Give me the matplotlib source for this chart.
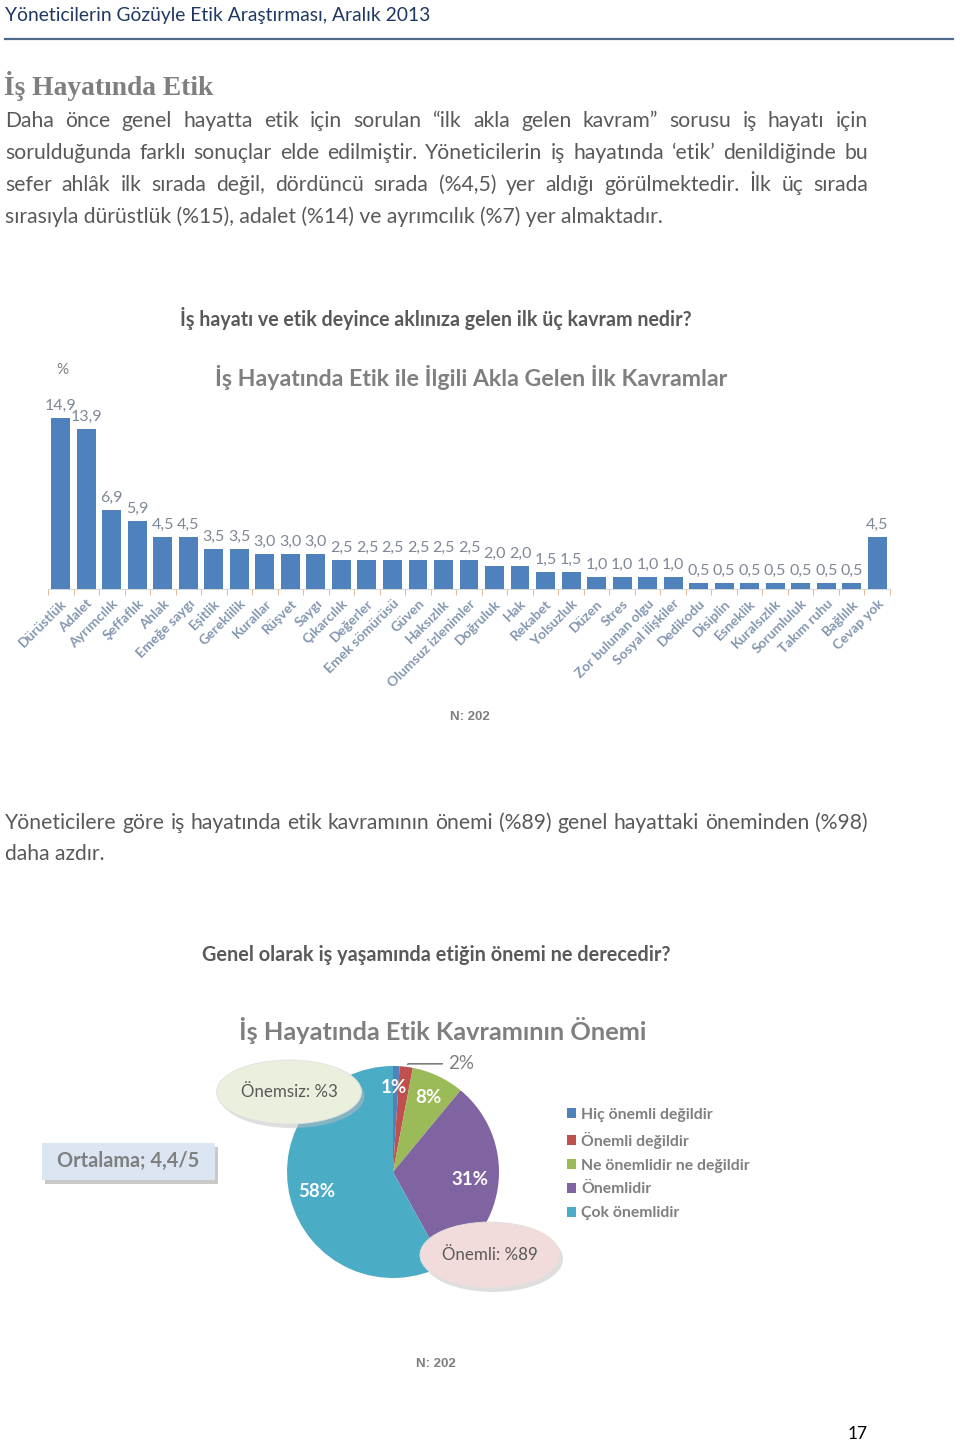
import numpy as np
import matplotlib
matplotlib.use("Agg")
import matplotlib.pyplot as plt
from matplotlib.patches import Ellipse, FancyBboxPatch

plt.rcParams["font.family"] = ["Lato", "DejaVu Sans"]

# ── Data ─────────────────────────────────────────────
CONCEPTS = ["Dürüstlük", "Adalet", "Ayrımcılık", "Şeffaflık", "Ahlak", "Emeğe saygı",
            "Eşitlik", "Gereklilik", "Kurallar", "Rüşvet", "Saygı", "Çıkarcılık",
            "Değerler", "Emek sömürüsü", "Güven", "Haksızlık", "Olumsuz izlenimler",
            "Doğruluk", "Hak", "Rekabet", "Yolsuzluk", "Düzen", "Stres",
            "Zor bulunan olgu", "Sosyal ilişkiler", "Dedikodu", "Disiplin", "Esneklik",
            "Kuralsızlık", "Sorumluluk", "Takım ruhu", "Bağlılık", "Cevap yok"]
CONCEPT_PCT = [14.9, 13.9, 6.9, 5.9, 4.5, 4.5, 3.5, 3.5, 3.0, 3.0, 3.0,
               2.5, 2.5, 2.5, 2.5, 2.5, 2.5, 2.0, 2.0, 1.5, 1.5,
               1.0, 1.0, 1.0, 1.0, 0.5, 0.5, 0.5, 0.5, 0.5, 0.5, 0.5, 4.5]

IMPORTANCE = ["Hiç önemli değildir", "Önemli değildir", "Ne önemlidir ne değildir",
              "Önemlidir", "Çok önemlidir"]
IMPORTANCE_PCT = [1, 2, 8, 31, 58]
IMPORTANCE_COLORS = ["#4F81BD", "#C0504D", "#9BBB59", "#8064A2", "#4BACC6"]

PARA1 = [
    "Daha önce genel hayatta etik için sorulan “ilk akla gelen kavram” sorusu iş hayatı için",
    "sorulduğunda farklı sonuçlar elde edilmiştir. Yöneticilerin iş hayatında ‘etik’ denildiğinde bu",
    "sefer ahlâk ilk sırada değil, dördüncü sırada (%4,5) yer aldığı görülmektedir. İlk üç sırada",
    "sırasıyla dürüstlük (%15), adalet (%14) ve ayrımcılık (%7) yer almaktadır.",
]
PARA2 = [
    "Yöneticilere göre iş hayatında etik kavramının önemi (%89) genel hayattaki öneminden (%98)",
    "daha azdır.",
]

W, H = 960, 1443
GREY = "#7F7F7F"
TEXT = "#595959"

fig = plt.figure(figsize=(W / 100, H / 100), dpi=100)
fig.patch.set_facecolor("white")


def fx(x):
    return x / W


def fy(y):
    return 1 - y / H


# ── Bar chart ─────────────────────────────────────────
x0, x1, base, top = 48, 890, 589, 405
bax = fig.add_axes([fx(x0), fy(base), fx(x1 - x0), (base - top) / H])
x = np.arange(len(CONCEPTS))
bax.bar(x, CONCEPT_PCT, width=0.74, color="#4F81BD", zorder=3)
bax.set_xlim(-0.5, len(CONCEPTS) - 0.5)
bax.set_ylim(0, 16)
for i, v in enumerate(CONCEPT_PCT):
    bax.text(i, v + 0.45, f"{v:.1f}".replace(".", ","), ha="center", va="bottom",
             fontsize=11.5, color="#7F8796")
for s in ["top", "right", "left"]:
    bax.spines[s].set_visible(False)
bax.spines["bottom"].set_color("#D9D9D9")
bax.set_yticks([])
bax.set_xticks(x)
bax.set_xticklabels(CONCEPTS, rotation=45, ha="right", rotation_mode="anchor",
                    fontsize=10, fontweight="bold", color="#8497B0")
bax.tick_params(axis="x", which="major", length=0, pad=6)
bax.set_xticks(np.arange(-0.5, len(CONCEPTS)), minor=True)
bax.tick_params(axis="x", which="minor", length=4, color="#D9B38C", direction="out")
bax.patch.set_alpha(0)

# ── Pie chart ─────────────────────────────────────────
cx, cy, r = 393, 1172, 106
pax = fig.add_axes([fx(cx - r), fy(cy + r), 2 * r / W, 2 * r / H])
wedges, _ = pax.pie(IMPORTANCE_PCT, colors=IMPORTANCE_COLORS, startangle=90,
                    counterclock=False, radius=1.0)
pax.set_xlim(-1, 1)
pax.set_ylim(-1, 1)
pax.set_aspect("equal")
pax.axis("off")

# labels inside slices
cum = 0
for i, v in enumerate(IMPORTANCE_PCT):
    mid = 90 - (cum + v / 2) * 3.6
    cum += v
    ang = np.deg2rad(mid)
    if i == 1:
        continue
    rr = {0: 0.8, 2: 0.78, 3: 0.73, 4: 0.74}[i]
    dx = {0: -0.02, 2: 0.0, 3: 0.0, 4: 0.0}[i]
    pax.text(rr * np.cos(ang) + dx, rr * np.sin(ang), f"{v}%", ha="center", va="center",
             fontsize=13.5, fontweight="bold", color="white")
# 2% with leader line
mid2 = np.deg2rad(90 - (IMPORTANCE_PCT[0] + IMPORTANCE_PCT[1] / 2) * 3.6)
pax.annotate(f"{IMPORTANCE_PCT[1]}%", xy=(np.cos(mid2), np.sin(mid2)),
             xytext=(0.52, 1.02), textcoords="data", ha="left", va="center",
             fontsize=13.5, color=GREY, annotation_clip=False,
             arrowprops=dict(arrowstyle="-", color="#404040", lw=0.8,
                             connectionstyle="angle,angleA=0,angleB=60"))

leg = pax.legend(wedges, IMPORTANCE, loc="upper left", bbox_to_anchor=(fx(567), fy(1108)),
                 bbox_transform=fig.transFigure, frameon=False, fontsize=11.3,
                 handlelength=0.6, handleheight=0.6, handletextpad=0.3,
                 labelspacing=0.62, borderpad=0, borderaxespad=0)
for t in leg.get_texts():
    t.set_color(GREY)
    t.set_fontweight("bold")

# ── Overlay for page text (pixel coords) ─────────────
ov = fig.add_axes([0, 0, 1, 1], zorder=10)
ov.set_xlim(0, W)
ov.set_ylim(H, 0)
ov.axis("off")
ov.patch.set_alpha(0)

ov.text(5, 15, "Yöneticilerin Gözüyle Etik Araştırması, Aralık 2013", fontsize=13.9,
        color="#1F3864", va="center", ha="left")
ov.plot([5, 953], [39, 39], color="#4F6B8A", lw=1.6)
ov.text(4, 86, "İş Hayatında Etik", fontsize=19.8, fontweight="bold", color=GREY,
        family=["Liberation Serif", "DejaVu Serif"], va="center", ha="left")

renderer = fig.canvas.get_renderer()


def text_line(y, line, justify, size=15.2, left=5, right=868):
    words = line.split(" ")
    objs = [ov.text(0, y, w, fontsize=size, color=TEXT, va="center", ha="left") for w in words]
    if not justify:
        for o in objs[1:]:
            o.remove()
        objs[0].set_text(line)
        objs[0].set_x(left)
        return
    widths = [o.get_window_extent(renderer).width for o in objs]
    gap = (right - left - sum(widths)) / max(len(words) - 1, 1)
    xpos = left
    for o, w in zip(objs, widths):
        o.set_x(xpos)
        xpos += w + gap


for k, (y, line) in enumerate(zip([121, 153, 185, 217], PARA1)):
    text_line(y, line, k < len(PARA1) - 1)
for k, (y, line) in enumerate(zip([823, 854], PARA2)):
    text_line(y, line, k < len(PARA2) - 1)

ov.text(436, 318, "İş hayatı ve etik deyince aklınıza gelen ilk üç kavram nedir?",
        fontsize=14.1, fontweight="bold", color=TEXT, ha="center", va="center")
ov.text(62, 370, "%", fontsize=11, color=GREY, ha="center", va="center")
ov.text(471, 377, "İş Hayatında Etik ile İlgili Akla Gelen İlk Kavramlar", fontsize=16.7,
        fontweight="bold", color=GREY, ha="center", va="center")
ov.text(470, 717, "N: 202", fontsize=9.5, fontweight="bold", color=GREY,
        family=["Liberation Sans", "DejaVu Sans"], ha="center", va="center")

ov.text(436, 955, "Genel olarak iş yaşamında etiğin önemi ne derecedir?", fontsize=14.3,
        fontweight="bold", color=TEXT, ha="center", va="center")
ov.text(443, 1031, "İş Hayatında Etik Kavramının Önemi", fontsize=18.3,
        fontweight="bold", color=GREY, ha="center", va="center")

# callouts
for (ex, ey, ew, eh, fc, label) in [(289, 1092, 145, 64, "#EBF0DE", "Önemsiz: %3"),
                                     (490, 1255, 140, 66, "#F2DCDB", "Önemli: %89")]:
    ov.add_patch(Ellipse((ex + 3, ey + 4), ew, eh, facecolor="#BFBFBF", alpha=0.5,
                         edgecolor="none"))
    ov.add_patch(Ellipse((ex, ey), ew, eh, facecolor=fc, edgecolor="#E0E0E0", lw=0.6))
    ov.text(ex, ey, label, fontsize=12.2, color=TEXT, ha="center", va="center")

ov.add_patch(FancyBboxPatch((45, 1147), 173, 37, boxstyle="square,pad=0",
                            facecolor="#A6A6A6", edgecolor="none", alpha=0.6))
ov.add_patch(FancyBboxPatch((42, 1143), 173, 37, boxstyle="square,pad=0",
                            facecolor="#DCE6F2", edgecolor="none"))
ov.text(128, 1161, "Ortalama; 4,4/5", fontsize=14.3, fontweight="bold", color=GREY,
        ha="center", va="center")

ov.text(436, 1364, "N: 202", fontsize=9.5, fontweight="bold", color=GREY,
        family=["Liberation Sans", "DejaVu Sans"], ha="center", va="center")
ov.text(858, 1434, "17", fontsize=12.5, color="black", ha="center", va="center")

fig.savefig("out.png", dpi=100)
